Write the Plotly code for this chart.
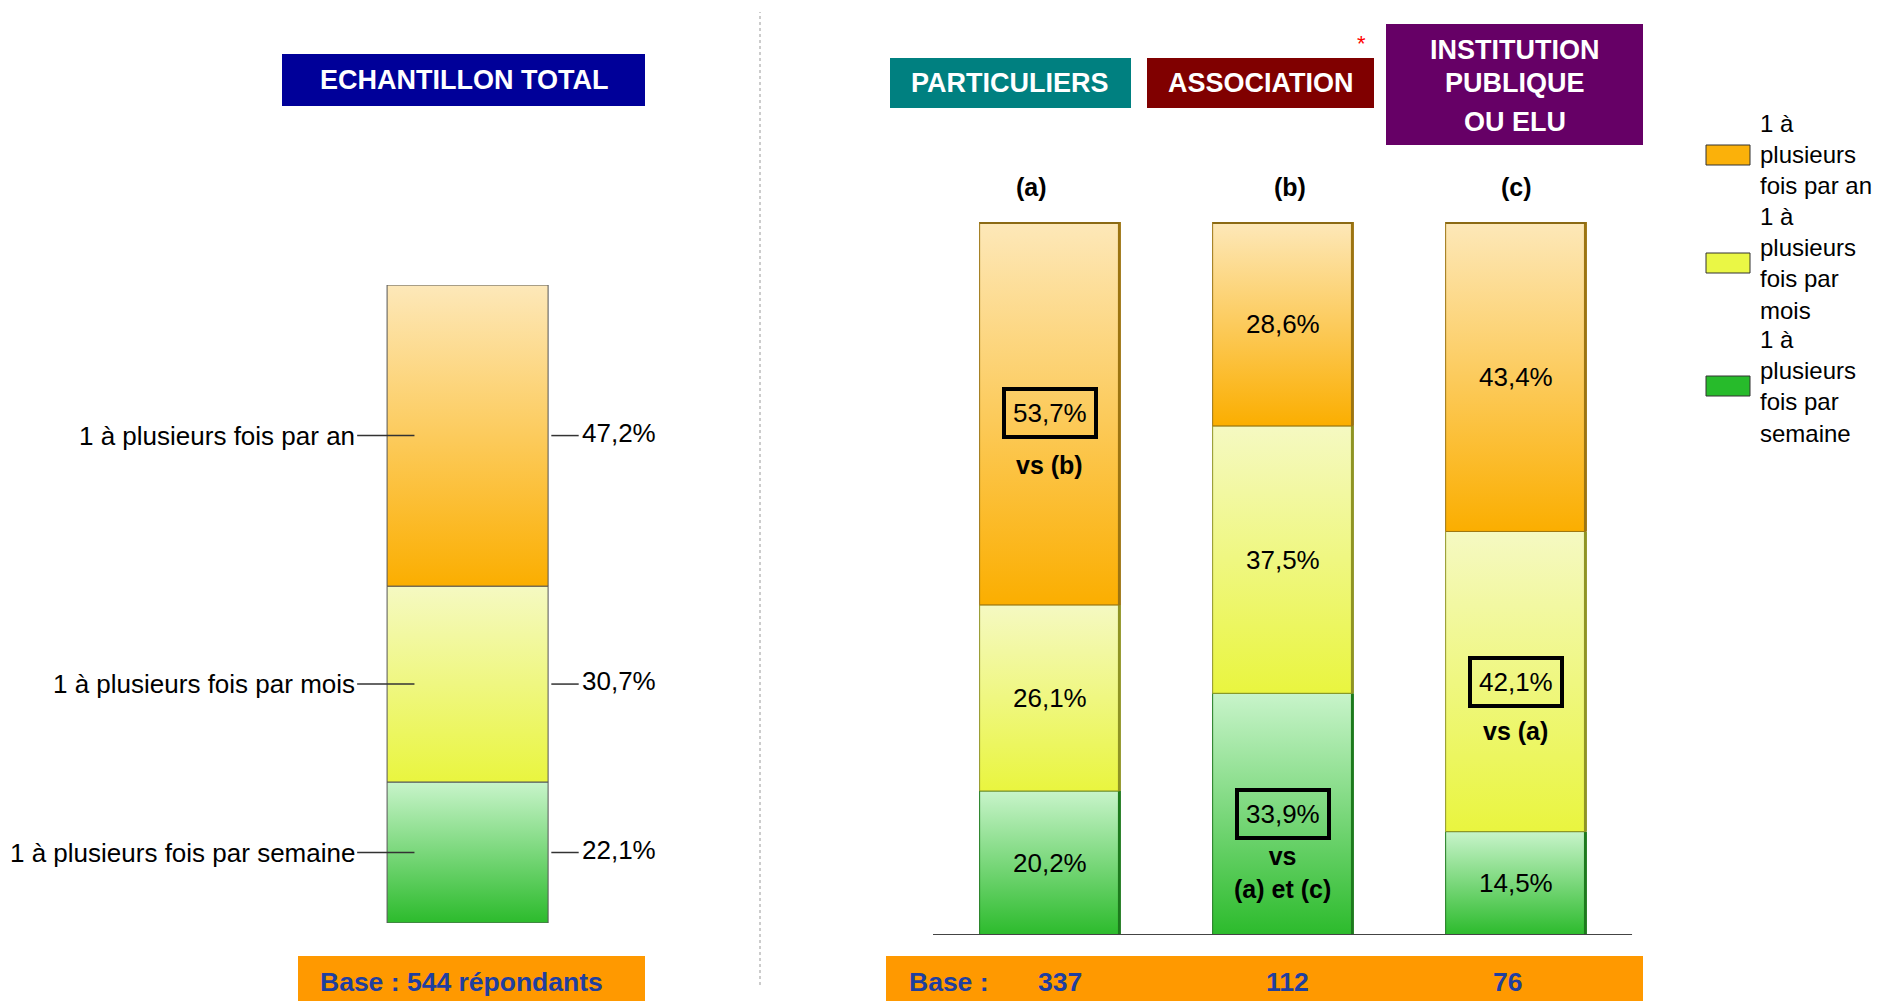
import plotly.graph_objects as go

W, H = 1883, 1001
FONT = "Liberation Sans, Arial, sans-serif"

# séries empilées, de bas en haut
freq_labels = ["1 à plusieurs fois par semaine", "1 à plusieurs fois par mois", "1 à plusieurs fois par an"]
total = [22.1, 30.7, 47.2]
total_base = 544

groups = ["PARTICULIERS", "ASSOCIATION", "INSTITUTION PUBLIQUE OU ELU"]
group_codes = ["(a)", "(b)", "(c)"]
semaine = [20.2, 33.9, 14.5]
mois = [26.1, 37.5, 42.1]
an = [53.7, 28.6, 43.4]
bases = [337, 112, 76]

# différences significatives : (série, groupe) -> texte
signif = {(2, 0): "vs (b)", (0, 1): "vs<br>(a) et (c)", (1, 2): "vs (a)"}

# couleurs (bas, haut) du dégradé, bord, aplat légende
GRAD = [("#2cbb2c", "#c8f4ca"), ("#e9f53f", "#f5f9c2"), ("#fbae00", "#fde8b9")]
EDGE = ["#1d7a1d", "#8f9424", "#9c7411"]
SOLID = ["#27bb2b", "#eaf745", "#fbb10a"]

# petits décalages de mise en page (px)
SIG_SHIFT = {(2, 0): -36, (0, 1): -26, (1, 2): -33}
CODE_DX = [-18, 7, 1]
BASE_DX = [10, 5, -8]


def px(x):
    return x / W


def py(y):
    return 1 - y / H


def fmt(v):
    return f"{v:.1f}".replace(".", ",") + "%"


def segment(fig, xc, w, y0, y1, k, xa, ya, edge, lw=1):
    fig.add_trace(go.Scatter(
        x=[xc - w / 2, xc + w / 2, xc + w / 2, xc - w / 2, xc - w / 2],
        y=[y0, y0, y1, y1, y0],
        xaxis=xa, yaxis=ya, mode="lines", fill="toself",
        line=dict(color=edge, width=lw),
        fillgradient=dict(type="vertical", start=y0, stop=y1,
                          colorscale=[[0, GRAD[k][0]], [1, GRAD[k][1]]]),
        hoverinfo="skip", showlegend=False,
    ))


def note(x, y, text, size, color="black", xref="paper", yref="paper", **kw):
    d = dict(x=x, y=y, xref=xref, yref=yref, text=text, showarrow=False,
             xanchor="center", yanchor="middle", font=dict(size=size, color=color))
    d.update(kw)
    return d


fig = go.Figure()
ann = []
shapes = []

# ---- panneau gauche : échantillon total
W_L = 0.5
base = 0
for k, v in enumerate(total):
    segment(fig, 0, W_L, base, base + v, k, "x", "y", "#555555")
    mid = base + v / 2
    ann.append(note(-W_L / 2 - 0.093, mid, freq_labels[k], 26, xref="x", yref="y", xanchor="right"))
    ann.append(note(W_L / 2 + 0.1, mid, fmt(v), 26, xref="x", yref="y", xanchor="left", yshift=3))
    shapes.append(dict(type="line", xref="x", yref="y", x0=-W_L / 2 - 0.093, x1=-W_L / 2 + 0.085,
                       y0=mid, y1=mid, line=dict(color="#333333", width=1.5)))
    shapes.append(dict(type="line", xref="x", yref="y", x0=W_L / 2 + 0.01, x1=W_L / 2 + 0.095,
                       y0=mid, y1=mid, line=dict(color="#333333", width=1.5)))
    base += v

# ---- panneau droit : par type de répondant
W_R = 0.6
series = [semaine, mois, an]
for i in range(len(groups)):
    base = 0
    for k, vals in enumerate(series):
        v = vals[i]
        segment(fig, i, W_R, base, base + v, k, "x2", "y2", EDGE[k])
        # face latérale (effet 3D)
        fig.add_trace(go.Scatter(x=[i + W_R / 2, i + W_R / 2], y=[base, base + v], xaxis="x2", yaxis="y2",
                                 mode="lines", line=dict(color=EDGE[k], width=3),
                                 hoverinfo="skip", showlegend=False))
        mid = base + v / 2
        if (k, i) in signif:
            ann.append(note(i, mid, fmt(v), 26, xref="x2", yref="y2", bordercolor="black",
                            borderwidth=4, borderpad=7))
            ann.append(note(i, mid, "<b>" + signif[(k, i)] + "</b>", 25, xref="x2", yref="y2",
                            yanchor="top", yshift=SIG_SHIFT[(k, i)]))
        else:
            ann.append(note(i, mid, fmt(v), 26, xref="x2", yref="y2"))
        base += v
    # dessus de la barre
    fig.add_trace(go.Scatter(x=[i - W_R / 2, i + W_R / 2], y=[100, 100], xaxis="x2", yaxis="y2",
                             mode="lines", line=dict(color="#8b6a14", width=4),
                             hoverinfo="skip", showlegend=False))
    ann.append(note(i, py(187), "<b>" + group_codes[i] + "</b>", 25, xref="x2", xshift=CODE_DX[i]))
    ann.append(note(i, py(982), "<b>" + str(bases[i]) + "</b>", 26.5, color="#1f3f9f", xref="x2",
                    xshift=BASE_DX[i]))

shapes.append(dict(type="line", xref="x2", yref="y2", x0=-0.5, x1=2.5, y0=0, y1=0,
                   line=dict(color="#444444", width=2)))

# ---- bandeaux de titre
headers = [
    (282, 645, 54, 106, "#000099", ["ECHANTILLON TOTAL"], [80]),
    (890, 1131, 58, 108, "#008080", [groups[0]], [83]),
    (1147, 1374, 58, 108, "#800000", [groups[1]], [83]),
    (1386, 1643, 24, 145, "#660066", ["INSTITUTION", "PUBLIQUE", "OU ELU"], [50, 83, 122]),
]
for x0, x1, y0, y1, col, lines, ys in headers:
    shapes.append(dict(type="rect", xref="paper", yref="paper", x0=px(x0), x1=px(x1),
                       y0=py(y1), y1=py(y0), fillcolor=col, line=dict(width=0), layer="below"))
    for t, yy in zip(lines, ys):
        ann.append(note(px((x0 + x1) / 2), py(yy), "<b>" + t + "</b>", 27, color="white"))
ann.append(note(px(1361), py(44), "*", 22, color="red"))

# ---- bandeaux de base
for x0, x1 in [(298, 645), (886, 1643)]:
    shapes.append(dict(type="rect", xref="paper", yref="paper", x0=px(x0), x1=px(x1),
                       y0=-0.01, y1=py(956), fillcolor="#ff9900", line=dict(width=0), layer="below"))
ann.append(note(px(318), py(982), f"<b>Base : {total_base} répondants</b>", 26.5, color="#1f3f9f",
                xanchor="left"))
ann.append(note(px(907), py(982), "<b>Base :</b>", 26.5, color="#1f3f9f", xanchor="left"))

# ---- séparateur pointillé
shapes.append(dict(type="line", xref="paper", yref="paper", x0=px(760), x1=px(760),
                   y0=py(985), y1=py(12), line=dict(color="#999999", width=1, dash="dot")))

# ---- légende
legend_labels = ["1 à<br>plusieurs<br>fois par an", "1 à<br>plusieurs<br>fois par<br>mois",
                 "1 à<br>plusieurs<br>fois par<br>semaine"]
legend_y = [155, 263, 386]
for k, yy in zip([2, 1, 0], legend_y):
    shapes.append(dict(type="rect", xref="paper", yref="paper", x0=px(1706), x1=px(1750),
                       y0=py(yy + 10), y1=py(yy - 10), fillcolor=SOLID[k],
                       line=dict(color="#333333", width=1)))
for lab, yy in zip(legend_labels, legend_y):
    ann.append(note(px(1758), py(yy), lab, 24, xanchor="left", align="left"))

ax_off = dict(visible=False, showgrid=False, zeroline=False, fixedrange=True)
fig.update_layout(
    width=W, height=H,
    margin=dict(l=0, r=0, t=0, b=0),
    paper_bgcolor="white", plot_bgcolor="rgba(0,0,0,0)",
    font=dict(family=FONT),
    showlegend=False,
    xaxis=dict(domain=[0, px(760)], range=[-1.452, 0.908], **ax_off),
    yaxis=dict(domain=[py(923), py(285)], range=[0, 100], anchor="x", **ax_off),
    xaxis2=dict(domain=[px(760), 1], range=[-1.2425, 3.577], **ax_off),
    yaxis2=dict(domain=[py(935), py(222)], range=[0, 100], anchor="x2", **ax_off),
    annotations=ann,
    shapes=shapes,
)

# la page a une marge de 8 px par défaut : on la retire pour caler la figure
fig.write_html("out.html", config={"displayModeBar": False},
               post_script="document.body.style.margin='0';document.body.style.overflow='hidden';")
